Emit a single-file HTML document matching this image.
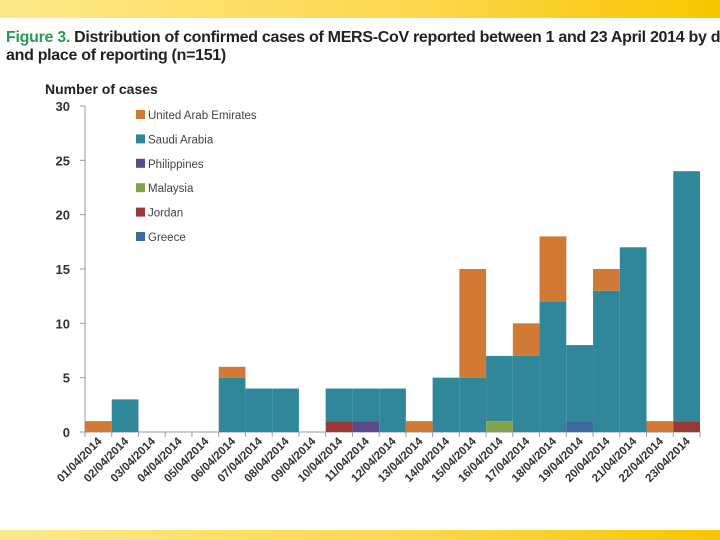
<!DOCTYPE html>
<html><head><meta charset="utf-8"><style>
body{margin:0;width:720px;height:540px;background:#fff;overflow:hidden;font-family:"Liberation Sans",sans-serif;}
#top{position:absolute;left:0;top:0;width:720px;height:18px;background:linear-gradient(90deg,#fde98a,#fdd64a 60%,#f7c600);}
#bot{position:absolute;left:0;top:530px;width:720px;height:10px;background:linear-gradient(90deg,#fde98a,#fdd64a 60%,#f7c600);}
#title{position:absolute;left:6px;top:29px;font-size:16px;font-weight:bold;color:#222;line-height:18px;white-space:nowrap;letter-spacing:-0.3px}
#title span{color:#2a9a50}
</style></head><body>
<div id="top"></div>
<div id="bot"></div>
<div id="title"><span>Figure 3.</span> Distribution of confirmed cases of MERS-CoV reported between 1 and 23 April 2014 by date<br>and place of reporting (n=151)</div>
<svg id="chart" width="720" height="540" style="position:absolute;left:0;top:0"></svg>
<script>
const dates=["01/04/2014","02/04/2014","03/04/2014","04/04/2014","05/04/2014","06/04/2014","07/04/2014","08/04/2014","09/04/2014","10/04/2014","11/04/2014","12/04/2014","13/04/2014","14/04/2014","15/04/2014","16/04/2014","17/04/2014","18/04/2014","19/04/2014","20/04/2014","21/04/2014","22/04/2014","23/04/2014"];
const greece=[0,0,0,0,0,0,0,0,0,0,0,0,0,0,0,0,0,0,1,0,0,0,0];
const jordan=[0,0,0,0,0,0,0,0,0,1,0,0,0,0,0,0,0,0,0,0,0,0,1];
const malaysia=[0,0,0,0,0,0,0,0,0,0,0,0,0,0,0,1,0,0,0,0,0,0,0];
const philippines=[0,0,0,0,0,0,0,0,0,0,1,0,0,0,0,0,0,0,0,0,0,0,0];
const saudi=[0,3,0,0,0,5,4,4,0,3,3,4,0,5,5,6,7,12,7,13,17,0,23];
const uae=[1,0,0,0,0,1,0,0,0,0,0,0,1,0,10,0,3,6,0,2,0,1,0];
const yTicks=[0,5,10,15,20,25,30];
const series=[["Greece",greece,"#3a6a9e"],["Jordan",jordan,"#9a3838"],["Malaysia",malaysia,"#82a24c"],["Philippines",philippines,"#5b4a8a"],["Saudi Arabia",saudi,"#31879a"],["United Arab Emirates",uae,"#d07a35"]];
const svg=document.getElementById('chart');const NS="http://www.w3.org/2000/svg";
const x0=85,x1=700,y0=432,yTop=106,ymax=30;
const bw=(x1-x0)/dates.length;
const X=i=>x0+i*bw, Y=v=>y0-(y0-yTop)*v/ymax;
function mk(t,a,txt){const e=document.createElementNS(NS,t);for(const k in a)e.setAttribute(k,a[k]);if(txt!=null)e.textContent=txt;svg.appendChild(e);return e;}
let e=mk('text',{x:45,y:94,'font-size':14,'font-weight':'bold',fill:'#222'},'Number of cases');

yTicks.forEach(t=>{const l=mk('text',{x:70,y:Y(t)+5,'font-size':13,'font-weight':'bold','text-anchor':'end',fill:'#333'},t);

mk('line',{x1:80,x2:85,y1:Y(t),y2:Y(t),stroke:'#999'});});
e=mk('line',{x1:85,x2:85,y1:yTop,y2:y0,stroke:'#999'});
e=mk('line',{x1:85,x2:x1,y1:y0,y2:y0,stroke:'#999'});
dates.forEach((d,i)=>{let base=0;series.forEach(s=>{const v=s[1][i];if(v>0){const r=mk('rect',{x:X(i),y:Y(base+v),width:bw,height:Y(base)-Y(base+v),fill:s[2]});
}base+=v;});
mk('line',{x1:X(i),x2:X(i),y1:y0,y2:y0+5,stroke:'#999'});
const cx=X(i)+bw/2+4,cy=y0+10;const l=mk('text',{x:cx,y:cy,'font-size':11.5,'font-weight':'bold','text-anchor':'end',fill:'#333',transform:`rotate(-45 ${cx} ${cy})`},d);
});
mk('line',{x1:x1,x2:x1,y1:y0,y2:y0+5,stroke:'#999'});
series.slice().reverse().forEach((s,k)=>{const y=115+k*24.4;
const r=mk('rect',{x:136,y:y-5,width:9,height:9,fill:s[2]});
const t=mk('text',{x:148,y:y+4,'font-size':11.5,fill:'#444'},s[0]);});
</script>
</body></html>
